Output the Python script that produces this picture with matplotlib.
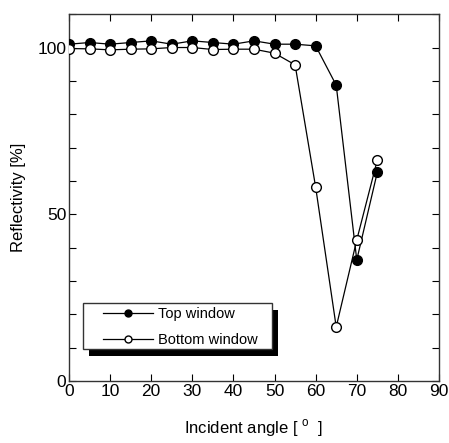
import matplotlib
matplotlib.use("Agg")
import matplotlib.pyplot as plt
from matplotlib.ticker import MultipleLocator, FixedLocator
from matplotlib.patches import Rectangle
from matplotlib.lines import Line2D

plt.rcParams['font.family'] = ['Liberation Sans', 'DejaVu Sans']
plt.rcParams['mathtext.fontset'] = 'custom'
plt.rcParams['mathtext.rm'] = 'Liberation Sans'

angles = [0, 5, 10, 15, 20, 25, 30, 35, 40, 45, 50, 55, 60, 65, 70, 75]
top_window = [101, 101.5, 101, 101.5, 102, 101, 102, 101.5, 101, 102, 101, 101, 100.5, 88.7, 36.3, 62.6]
bottom_window = [99.7, 99.6, 99.3, 99.5, 99.6, 100, 100, 99.4, 99.5, 99.5, 98.3, 94.8, 58.1, 16.2, 42.3, 66.3]

fig = plt.figure(figsize=(4.49, 4.43), dpi=100)
ax = fig.add_axes([0.1537, 0.140, 0.824, 0.828])

ax.plot(angles, top_window, '-o', color='black', lw=0.9, ms=7,
        mfc='black', mec='black', label='Top window', zorder=3)
ax.plot(angles, bottom_window, '-o', color='black', lw=0.9, ms=7,
        mfc='white', mec='black', label='Bottom window', zorder=3)

ax.set_xlim(0, 90)
ax.set_ylim(0, 110)
ax.xaxis.set_major_locator(MultipleLocator(10))
ax.yaxis.set_major_locator(FixedLocator([0, 50, 100]))
ax.yaxis.set_minor_locator(MultipleLocator(10))
ax.tick_params(which='both', direction='in', top=True, right=True,
               labelsize=12.5, width=0.8, pad=2)
ax.tick_params(which='major', length=5)
ax.tick_params(which='minor', length=5)
for s in ax.spines.values():
    s.set_linewidth(1.0)
    s.set_color('#333333')

ax.set_xlabel(r'Incident angle [ $^{\mathrm{o}}$  ]', fontsize=12, labelpad=13)
ax.set_ylabel('Reflectivity [%]', fontsize=12, labelpad=8)

# legend frame and shadow (axes coordinates)
fx, fy, fw, fh = 0.037, 0.0872, 0.5116, 0.126
ax.add_patch(Rectangle((fx + 0.0162, fy - 0.019), fw, fh, transform=ax.transAxes,
                       facecolor='black', edgecolor='black', lw=0, zorder=4))
ax.add_patch(Rectangle((fx, fy), fw, fh, transform=ax.transAxes,
                       facecolor='white', edgecolor='#333333', lw=1.0, zorder=5))

h1 = Line2D([], [], color='black', lw=0.9, marker='o', ms=5, mfc='black', mec='black')
h2 = Line2D([], [], color='black', lw=0.9, marker='o', ms=5, mfc='white', mec='black')
leg = ax.legend([h1, h2], ['Top window', 'Bottom window'], loc='center left',
                bbox_to_anchor=(0.0919, 0.147), fontsize=10.5, frameon=False,
                borderpad=0, borderaxespad=0, handlelength=3.4,
                handletextpad=0.4, labelspacing=0.82)
leg.set_zorder(6)

fig.savefig('out.png', dpi=100)
